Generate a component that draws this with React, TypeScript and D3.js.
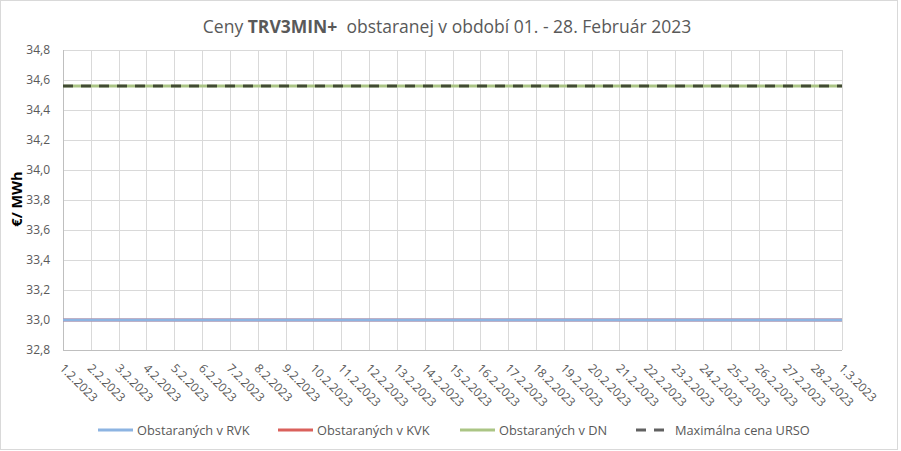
import React from "react";
import * as d3 from "d3";

const dates = [
  "1.2.2023", "2.2.2023", "3.2.2023", "4.2.2023", "5.2.2023", "6.2.2023", "7.2.2023",
  "8.2.2023", "9.2.2023", "10.2.2023", "11.2.2023", "12.2.2023", "13.2.2023", "14.2.2023",
  "15.2.2023", "16.2.2023", "17.2.2023", "18.2.2023", "19.2.2023", "20.2.2023", "21.2.2023",
  "22.2.2023", "23.2.2023", "24.2.2023", "25.2.2023", "26.2.2023", "27.2.2023", "28.2.2023",
  "1.3.2023",
];

const rvk = [33.0, 33.0, 33.0, 33.0, 33.0, 33.0, 33.0, 33.0, 33.0, 33.0, 33.0, 33.0, 33.0, 33.0, 33.0, 33.0, 33.0, 33.0, 33.0, 33.0, 33.0, 33.0, 33.0, 33.0, 33.0, 33.0, 33.0, 33.0, 33.0];
const kvk = [33.0, 33.0, 33.0, 33.0, 33.0, 33.0, 33.0, 33.0, 33.0, 33.0, 33.0, 33.0, 33.0, 33.0, 33.0, 33.0, 33.0, 33.0, 33.0, 33.0, 33.0, 33.0, 33.0, 33.0, 33.0, 33.0, 33.0, 33.0, 33.0];
const dn = [34.56, 34.56, 34.56, 34.56, 34.56, 34.56, 34.56, 34.56, 34.56, 34.56, 34.56, 34.56, 34.56, 34.56, 34.56, 34.56, 34.56, 34.56, 34.56, 34.56, 34.56, 34.56, 34.56, 34.56, 34.56, 34.56, 34.56, 34.56, 34.56];
const urso = [34.56, 34.56, 34.56, 34.56, 34.56, 34.56, 34.56, 34.56, 34.56, 34.56, 34.56, 34.56, 34.56, 34.56, 34.56, 34.56, 34.56, 34.56, 34.56, 34.56, 34.56, 34.56, 34.56, 34.56, 34.56, 34.56, 34.56, 34.56, 34.56];

const yTicks = [32.8, 33.0, 33.2, 33.4, 33.6, 33.8, 34.0, 34.2, 34.4, 34.6, 34.8];

const seriesNames = ["Obstaraných v RVK", "Obstaraných v KVK", "Obstaraných v DN", "Maximálna cena URSO"];

const W = 901;
const H = 451;
const M = { left: 63, right: 842, top: 50, bottom: 350 };
const FONT = "'Open Sans', 'Noto Sans', sans-serif";
const TXT = "#595959";

export default function App() {
  const x = d3.scalePoint<string>().domain(dates).range([M.left, M.right]);
  const y = d3.scaleLinear().domain([32.8, 34.8]).range([M.bottom, M.top]);
  const line = d3
    .line<number>()
    .x((_, i) => x(dates[i]) as number)
    .y((d) => y(d));

  const series = [
    { name: seriesNames[0], data: rvk, color: "#8DB4E2", dash: null, width: 3, opacity: 1 },
    { name: seriesNames[1], data: kvk, color: "#DA615C", dash: null, width: 3, opacity: 1 },
    { name: seriesNames[2], data: dn, color: "#ABC585", dash: null, width: 3, opacity: 1 },
    { name: seriesNames[3], data: urso, color: "#000000", dash: "10,8", width: 3, opacity: 0.62 },
  ];
  // draw order: KVK, DN, RVK, URSO so RVK is visible over KVK
  const drawOrder = [1, 2, 0, 3];

  const legendX = [98, 278, 460, 636];

  return (
    <svg
      width={W}
      height={H}
      style={{ position: "absolute", left: 0, top: 0, background: "#fff" }}
      fontFamily={FONT}
    >
      <rect x={0.5} y={0.5} width={897} height={449} fill="#fff" stroke="#D9D9D9" />
      <text x={447} y={33} textAnchor="middle" fontSize={17.5} fill={TXT} style={{ whiteSpace: "pre" }}>
        Ceny <tspan fontWeight="bold">TRV3MIN+</tspan>
        {"\u00A0 obstaranej v období 01. - 28. Február 2023"}
      </text>

      {/* horizontal grid */}
      {yTicks.map((t) => (
        <line key={"h" + t} x1={M.left} x2={M.right} y1={Math.round(y(t)) + 0.5} y2={Math.round(y(t)) + 0.5} stroke="#D9D9D9" />
      ))}
      {/* vertical grid */}
      {dates.map((d) => (
        <line key={"v" + d} x1={Math.round(x(d) as number) + 0.5} x2={Math.round(x(d) as number) + 0.5} y1={M.top} y2={M.bottom} stroke="#D9D9D9" />
      ))}
      {/* axes */}
      <line x1={M.left + 0.5} x2={M.left + 0.5} y1={M.top} y2={M.bottom} stroke="#BFBFBF" />
      <line x1={M.left} x2={M.right} y1={M.bottom + 0.5} y2={M.bottom + 0.5} stroke="#BFBFBF" />

      {/* y tick labels */}
      {yTicks.map((t) => (
        <text key={"yl" + t} x={50} y={y(t) + 4} textAnchor="end" fontSize={12} fill={TXT}>
          {d3.format(".1f")(t).replace(".", ",")}
        </text>
      ))}

      {/* y title */}
      <text transform={`translate(22,199) rotate(-90)`} textAnchor="middle" fontSize={14.5} fontWeight="bold" fill="#000">
        €/ MWh
      </text>

      {/* x labels */}
      {dates.map((d) => (
        <text key={"xl" + d} transform={`translate(${(x(d) as number) - 4},${M.bottom + 19}) rotate(45)`} fontSize={12} fill={TXT}>
          {d}
        </text>
      ))}

      {/* lines */}
      {drawOrder.map((i) => {
        const s = series[i];
        return (
          <path
            key={s.name}
            d={line(s.data) as string}
            fill="none"
            stroke={s.color}
            strokeWidth={s.width}
            strokeOpacity={s.opacity}
            strokeDasharray={s.dash ?? undefined}
          />
        );
      })}

      {/* legend */}
      {series.map((s, i) => (
        <g key={"lg" + s.name} transform={`translate(${legendX[i]},430)`}>
          <line x1={0} x2={35} y1={0} y2={0} stroke={s.color} strokeWidth={3} strokeOpacity={s.opacity} strokeDasharray={s.dash ? "10,8" : undefined} />
          <text x={39} y={4.5} fontSize={12.8} fill={TXT}>
            {s.name}
          </text>
        </g>
      ))}
    </svg>
  );
}
